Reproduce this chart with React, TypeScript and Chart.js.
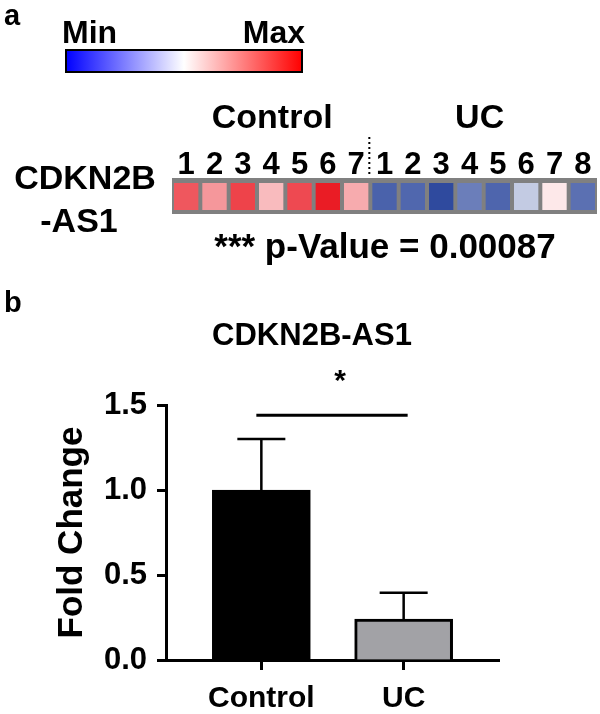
import React, { useEffect, useRef } from 'react';
import { Chart, registerables } from 'chart.js';

Chart.register(...registerables);

const FONT = 'Arial, "Liberation Sans", Helvetica, sans-serif';

// ---------- Panel a: heatmap data ----------
const panelLabels = ['a', 'b'];
const scaleLabels = ['Min', 'Max'];
const heatGroups = ['Control', 'UC'];
const controlSamples = ['1', '2', '3', '4', '5', '6', '7'];
const ucSamples = ['1', '2', '3', '4', '5', '6', '7', '8'];
// relative expression, -1 = Min (blue), +1 = Max (red)
const controlValues = [0.74, 0.46, 0.83, 0.3, 0.8, 1.0, 0.37];
const ucValues = [-0.87, -0.84, -1.0, -0.71, -0.85, -0.29, 0.1, -0.79];
const geneLabel = ['CDKN2B', '-AS1'];
const pValueText = '*** p-Value = 0.00087';

// ---------- Panel b: bar chart data ----------
const barTitle = 'CDKN2B-AS1';
const barCategories = ['Control', 'UC'];
const barMeans = [1.0, 0.24];
const barErrors = [0.3, 0.155];
const yTicks = [0, 0.5, 1.0, 1.5];
const yTitle = 'Fold Change';
const sigLevel = 1.44;
const sigMark = '*';

const LOW = [47, 74, 158];
const HIGH = [234, 28, 37];
function heatColor(v: number): string {
  const c = v < 0 ? LOW : HIGH;
  const t = Math.min(1, Math.abs(v));
  const ch = (k: number) => Math.round(255 + (c[k] - 255) * t);
  return `rgb(${ch(0)},${ch(1)},${ch(2)})`;
}

const heatPlugin = {
  id: 'heatDecor',
  beforeDatasetsDraw(chart: any) {
    const { ctx, chartArea } = chart;
    ctx.save();
    ctx.fillStyle = '#808080';
    ctx.fillRect(chartArea.left, chartArea.top - 5, chartArea.right - chartArea.left, chartArea.bottom - chartArea.top + 9);
    ctx.restore();
  },
  afterDatasetsDraw(chart: any) {
    const { ctx } = chart;
    const x = chart.scales.x;
    ctx.save();
    ctx.fillStyle = '#000';
    // panel letter
    ctx.font = `bold 29px ${FONT}`;
    ctx.textAlign = 'left';
    ctx.textBaseline = 'alphabetic';
    ctx.fillText(panelLabels[0], 4, 25);
    // colour scale
    ctx.font = `bold 32px ${FONT}`;
    ctx.fillText(scaleLabels[0], 62, 43);
    ctx.textAlign = 'right';
    ctx.fillText(scaleLabels[1], 305, 43);
    const g = ctx.createLinearGradient(66, 0, 302, 0);
    g.addColorStop(0, '#0000ff');
    g.addColorStop(0.5, '#ffffff');
    g.addColorStop(1, '#ff0000');
    ctx.fillStyle = g;
    ctx.fillRect(66, 50, 236, 22);
    ctx.strokeStyle = '#000';
    ctx.lineWidth = 2;
    ctx.strokeRect(66, 50, 236, 22);
    // group labels
    ctx.fillStyle = '#000';
    ctx.textAlign = 'center';
    ctx.font = `bold 34px ${FONT}`;
    const nC = controlSamples.length;
    const nU = ucSamples.length;
    const cMid = (x.getPixelForValue(0) + x.getPixelForValue(nC - 1)) / 2;
    const uMid = (x.getPixelForValue(nC) + x.getPixelForValue(nC + nU - 1)) / 2;
    ctx.fillText(heatGroups[0], cMid + 1, 128);
    ctx.fillText(heatGroups[1], uMid - 4, 128);
    // sample numbers
    ctx.font = `bold 31px ${FONT}`;
    chart.data.labels.forEach((lab: string, i: number) => {
      ctx.fillText(lab, x.getPixelForValue(i), 174);
    });
    // dotted separator
    const sep = (x.getPixelForValue(nC - 1) + x.getPixelForValue(nC)) / 2 - 1;
    ctx.strokeStyle = '#000';
    ctx.lineWidth = 2;
    ctx.setLineDash([2, 3]);
    ctx.beginPath();
    ctx.moveTo(sep, 137);
    ctx.lineTo(sep, 176);
    ctx.stroke();
    ctx.setLineDash([]);
    // gene label
    ctx.font = `bold 34px ${FONT}`;
    ctx.fillText(geneLabel[0], 85, 189);
    ctx.fillText(geneLabel[1], 79, 232);
    // p-value
    ctx.font = `bold 35px ${FONT}`;
    ctx.fillText(pValueText, 385, 258);
    ctx.restore();
  },
};

const barPlugin = {
  id: 'barDecor',
  afterDatasetsDraw(chart: any) {
    const { ctx } = chart;
    const x = chart.scales.x;
    const y = chart.scales.y;
    const meta = chart.getDatasetMeta(0);
    ctx.save();
    ctx.strokeStyle = '#000';
    ctx.lineWidth = 2.5;
    meta.data.forEach((bar: any, i: number) => {
      const px = bar.x;
      const y0 = y.getPixelForValue(barMeans[i]);
      const y1 = y.getPixelForValue(barMeans[i] + barErrors[i]);
      ctx.beginPath();
      ctx.moveTo(px, y0);
      ctx.lineTo(px, y1);
      ctx.moveTo(px - 24, y1);
      ctx.lineTo(px + 24, y1);
      ctx.stroke();
    });
    // significance bar
    const sy = y.getPixelForValue(sigLevel);
    const sx0 = x.getPixelForValue(0) - 5;
    const sx1 = x.getPixelForValue(1) + 4;
    ctx.lineWidth = 3;
    ctx.beginPath();
    ctx.moveTo(sx0, sy);
    ctx.lineTo(sx1, sy);
    ctx.stroke();
    ctx.fillStyle = '#000';
    ctx.textAlign = 'center';
    ctx.textBaseline = 'alphabetic';
    ctx.font = `bold 30px ${FONT}`;
    ctx.fillText(sigMark, (sx0 + sx1) / 2 + 8, sy - 25);
    // title + panel letter
    ctx.font = `bold 31px ${FONT}`;
    ctx.fillText(barTitle, 312, 75);
    ctx.textAlign = 'left';
    ctx.font = `bold 29px ${FONT}`;
    ctx.fillText(panelLabels[1], 4, 42);
    ctx.restore();
  },
};

export default function App() {
  const heatRef = useRef<HTMLCanvasElement>(null);
  const barRef = useRef<HTMLCanvasElement>(null);

  useEffect(() => {
    const labels = [...controlSamples, ...ucSamples];
    const values = [...controlValues, ...ucValues];
    const heat = new Chart(heatRef.current as HTMLCanvasElement, {
      type: 'bar',
      data: {
        labels,
        datasets: [
          {
            data: values.map(() => 1),
            backgroundColor: values.map(heatColor),
            borderWidth: 0,
            barPercentage: 0.86,
            categoryPercentage: 1,
          },
        ],
      },
      options: {
        responsive: false,
        animation: false,
        devicePixelRatio: 1,
        layout: { padding: { left: 172, right: 3, top: 183, bottom: 60 } },
        plugins: { legend: { display: false }, tooltip: { enabled: false } },
        scales: {
          x: { display: false },
          y: { display: false, min: 0, max: 1 },
        },
      },
      plugins: [heatPlugin],
    });

    const tickFont = { family: FONT, size: 31, weight: 'bold' as const };
    const bar = new Chart(barRef.current as HTMLCanvasElement, {
      type: 'bar',
      data: {
        datasets: [
          {
            data: barMeans.map((v, i) => ({ x: i, y: v })),
            backgroundColor: ['#000000', '#a2a2a6'],
            borderColor: '#000000',
            borderWidth: 3,
            barThickness: 98,
          },
        ],
      },
      options: {
        responsive: false,
        animation: false,
        devicePixelRatio: 1,
        layout: { padding: { left: 50, right: 101, top: 135, bottom: 0 } },
        plugins: { legend: { display: false }, tooltip: { enabled: false } },
        scales: {
          x: {
            type: 'linear',
            min: -0.67,
            max: 1.67,
            offset: false,
            afterBuildTicks: (s: any) => {
              s.ticks = barCategories.map((_, i) => ({ value: i }));
            },
            afterFit: (s: any) => {
              s.height = 54;
            },
            grid: {
              display: true,
              offset: false,
              drawOnChartArea: false,
              drawTicks: true,
              tickLength: 10,
              tickWidth: 3,
              tickColor: '#000',
            },
            border: { display: true, color: '#000', width: 3 },
            ticks: {
              color: '#000',
              font: { family: FONT, size: 30, weight: 'bold' },
              padding: 11,
              maxRotation: 0,
              autoSkip: false,
              callback: (v: any) => barCategories[Math.round(Number(v))] ?? '',
            },
          },
          y: {
            type: 'linear',
            min: 0,
            max: 1.5,
            afterBuildTicks: (s: any) => {
              s.ticks = yTicks.map((v) => ({ value: v }));
            },
            afterFit: (s: any) => {
              s.width = 116;
            },
            grid: {
              display: true,
              drawOnChartArea: false,
              drawTicks: true,
              tickLength: 9,
              tickWidth: 3,
              tickColor: '#000',
            },
            border: { display: true, color: '#000', width: 3 },
            ticks: {
              color: '#000',
              font: tickFont,
              padding: 10,
              callback: (v: any) => Number(v).toFixed(1),
            },
            title: {
              display: true,
              text: yTitle,
              color: '#000',
              font: { family: FONT, size: 35, weight: 'bold' },
              padding: { top: 1, bottom: 0 },
            },
          },
        },
      },
      plugins: [barPlugin],
    });

    return () => {
      heat.destroy();
      bar.destroy();
    };
  }, []);

  return (
    <div style={{ position: 'absolute', left: 0, top: 0, width: 600, height: 714 }}>
      <canvas ref={heatRef} width={600} height={270} style={{ position: 'absolute', left: 0, top: 0 }} />
      <canvas ref={barRef} width={600} height={444} style={{ position: 'absolute', left: 0, top: 270 }} />
    </div>
  );
}
